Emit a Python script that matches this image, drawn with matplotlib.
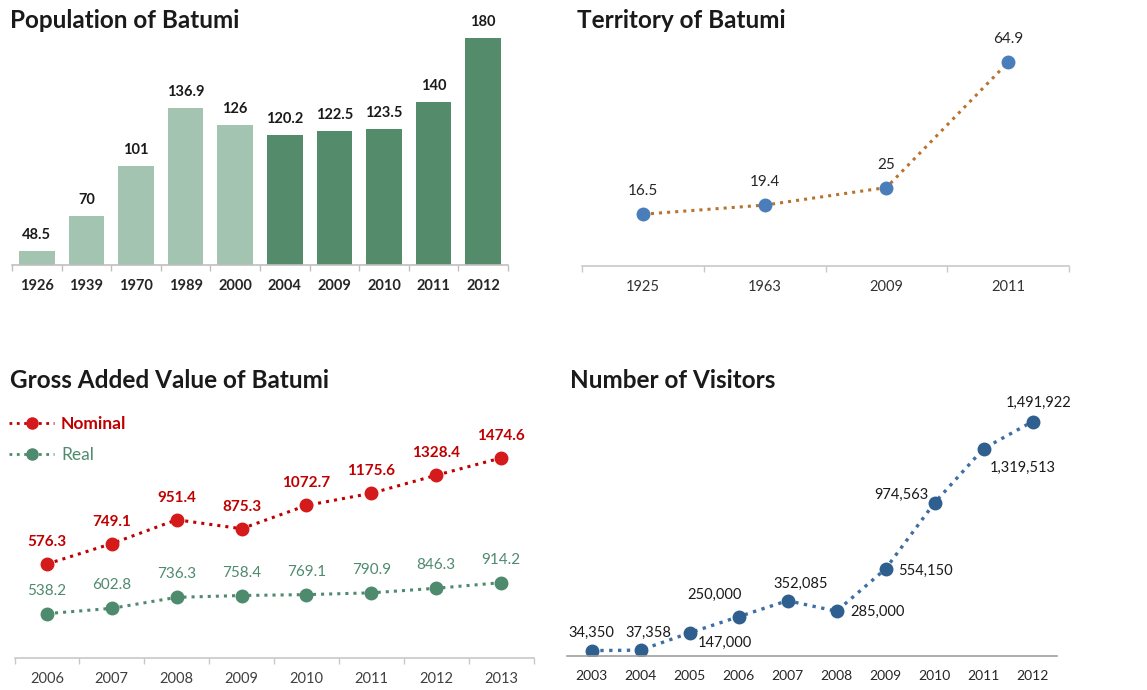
import matplotlib
matplotlib.use("Agg")
import matplotlib.pyplot as plt
from matplotlib.lines import Line2D

plt.rcParams['font.family'] = ['Lato', 'DejaVu Sans']

# ---------------- data ----------------
pop_years = ['1926', '1939', '1970', '1989', '2000', '2004', '2009', '2010', '2011', '2012']
pop_values = [48.5, 70, 101, 136.9, 126, 120.2, 122.5, 123.5, 140, 180]
pop_labels = ['48.5', '70', '101', '136.9', '126', '120.2', '122.5', '123.5', '140', '180']

terr_years = ['1925', '1963', '2009', '2011']
terr_values = [16.5, 19.4, 25, 64.9]

gav_years = ['2006', '2007', '2008', '2009', '2010', '2011', '2012', '2013']
gav_nominal = [576.3, 749.1, 951.4, 875.3, 1072.7, 1175.6, 1328.4, 1474.6]
gav_real = [538.2, 602.8, 736.3, 758.4, 769.1, 790.9, 846.3, 914.2]

vis_years = ['2003', '2004', '2005', '2006', '2007', '2008', '2009', '2010', '2011', '2012']
vis_values = [34350, 37358, 147000, 250000, 352085, 285000, 554150, 974563, 1319513, 1491922]

# ---------------- layout helpers ----------------
W, H = 1147, 690
fig = plt.figure(figsize=(W / 100, H / 100), dpi=100)


def rect(x0, x1, ybot, ytop):
    return [x0 / W, 1 - ybot / H, (x1 - x0) / W, (ybot - ytop) / H]


def style_cat_axis(ax, n, color='#bfbfbf', ticks=True):
    for s in ['top', 'right', 'left']:
        ax.spines[s].set_visible(False)
    ax.spines['bottom'].set_color(color)
    ax.spines['bottom'].set_linewidth(1.2)
    ax.set_yticks([])
    ax.set_xlim(-0.5, n - 0.5)
    ax.set_xticks(range(n))
    ax.tick_params(axis='x', which='major', length=0, pad=10)
    if ticks:
        ax.set_xticks([i - 0.5 for i in range(n + 1)], minor=True)
        ax.tick_params(axis='x', which='minor', length=4, color=color, width=1)
    ax.patch.set_alpha(0)


title_kw = dict(fontsize=17.5, fontweight='bold', color='#1a1a1a', va='center', ha='left')

# ---------------- Population ----------------
ax1 = fig.add_axes(rect(12, 508, 265, 5))
light, dark = '#a3c4b1', '#548c6b'
colors = [light] * 5 + [dark] * 5
x1 = range(len(pop_years))
ax1.bar(x1, pop_values, width=0.72, color=colors)
ax1.set_ylim(40, 200)
style_cat_axis(ax1, len(pop_years))
ax1.set_xticklabels(pop_years, fontsize=10.5, fontweight='bold', color='#262626')
for xi, v, lab in zip(x1, pop_values, pop_labels):
    ax1.annotate(lab, (xi, v), xytext=(0, 16), textcoords='offset pixels',
                 ha='center', va='center', fontsize=10.5, fontweight='bold', color='#1a1a1a')
fig.text(10 / W, 1 - 20 / H, 'Population of Batumi', **title_kw)

# ---------------- Territory ----------------
ax2 = fig.add_axes(rect(582, 1069, 266, 40))
x2 = range(len(terr_years))
ax2.plot(x2, terr_values, linestyle=':', linewidth=2.2, color='#b8742e',
         marker='o', markersize=9, markerfacecolor='#4a7ebb', markeredgecolor='#4a7ebb')
ax2.set_ylim(0, 72)
style_cat_axis(ax2, len(terr_years), color='#c8c8c8')
ax2.set_xticklabels(terr_years, fontsize=10.5, color='#333333')
for xi, v in zip(x2, terr_values):
    ax2.annotate(f'{v:g}', (xi, v), xytext=(0, 23), textcoords='offset pixels',
                 ha='center', va='center', fontsize=11, color='#262626')
fig.text(577 / W, 1 - 20 / H, 'Territory of Batumi', **title_kw)

# ---------------- Gross Added Value ----------------
ax3 = fig.add_axes(rect(14.5, 533.5, 658, 400))
ax3b = ax3.twinx()
x3 = range(len(gav_years))
nom_line = '#c00000'
real_c = '#4e8a6e'
ax3b.plot(x3, gav_nominal, linestyle=':', linewidth=2.2, color=nom_line,
          marker='o', markersize=9, markerfacecolor='#d41a1a', markeredgecolor='#d41a1a')
ax3.plot(x3, gav_real, linestyle=':', linewidth=2.2, color=real_c,
         marker='o', markersize=9, markerfacecolor=real_c, markeredgecolor=real_c)
ax3.set_ylim(0, 3131)
ax3b.set_ylim(-220, 1966)
style_cat_axis(ax3, len(gav_years), color='#c8c8c8')
for s in ax3b.spines.values():
    s.set_visible(False)
ax3b.set_yticks([])
ax3.set_xticklabels(gav_years, fontsize=10.5, color='#404040')
for xi, v in zip(x3, gav_nominal):
    ax3b.annotate(f'{v:g}', (xi, v), xytext=(0, 22), textcoords='offset pixels',
                  ha='center', va='center', fontsize=11, fontweight='bold', color='#c00000')
for xi, v in zip(x3, gav_real):
    ax3.annotate(f'{v:g}', (xi, v), xytext=(0, 23), textcoords='offset pixels',
                 ha='center', va='center', fontsize=11, color='#4e8a6e')
handles = [
    Line2D([], [], linestyle=':', linewidth=2, color=nom_line, marker='o', markersize=8,
           markerfacecolor='#d41a1a', markeredgecolor='#d41a1a'),
    Line2D([], [], linestyle=':', linewidth=2, color=real_c, marker='o', markersize=8,
           markerfacecolor=real_c, markeredgecolor=real_c),
]
leg = fig.legend(handles, ['Nominal', 'Real'], loc='upper left',
                 bbox_to_anchor=(2 / W, 1 - 409 / H), frameon=False, fontsize=12.5,
                 handlelength=2.6, labelspacing=0.85, handletextpad=0.4, borderaxespad=0)
leg.get_texts()[0].set_color('#c00000')
leg.get_texts()[0].set_fontweight('bold')
leg.get_texts()[1].set_color(real_c)
fig.text(10 / W, 1 - 380 / H, 'Gross Added Value of Batumi', **title_kw)

# ---------------- Number of Visitors ----------------
ax4 = fig.add_axes(rect(567, 1057, 656, 390))
x4 = range(len(vis_years))
vis_c = '#2f5f8f'
ax4.plot(x4, vis_values, linestyle=':', linewidth=2.4, color='#3d6fa3',
         marker='o', markersize=9, markerfacecolor=vis_c, markeredgecolor=vis_c)
ax4.set_ylim(0, 1.693e6)
style_cat_axis(ax4, len(vis_years), color='#a0a0a0', ticks=False)
ax4.set_xticklabels(vis_years, fontsize=10, color='#262626')
vis_offsets = [(0, 18), (8, 17), (35, -10), (-24, 22), (13, 17),
               (41, -1), (40, -2), (-33, 8), (39, -19), (6, 19)]
for xi, v, off in zip(x4, vis_values, vis_offsets):
    ax4.annotate(f'{v:,}', (xi, v), xytext=off, textcoords='offset pixels',
                 ha='center', va='center', fontsize=10.5, color='#1a1a1a')
fig.text(570 / W, 1 - 380 / H, 'Number of Visitors', **title_kw)

fig.savefig('out.png', dpi=100)
